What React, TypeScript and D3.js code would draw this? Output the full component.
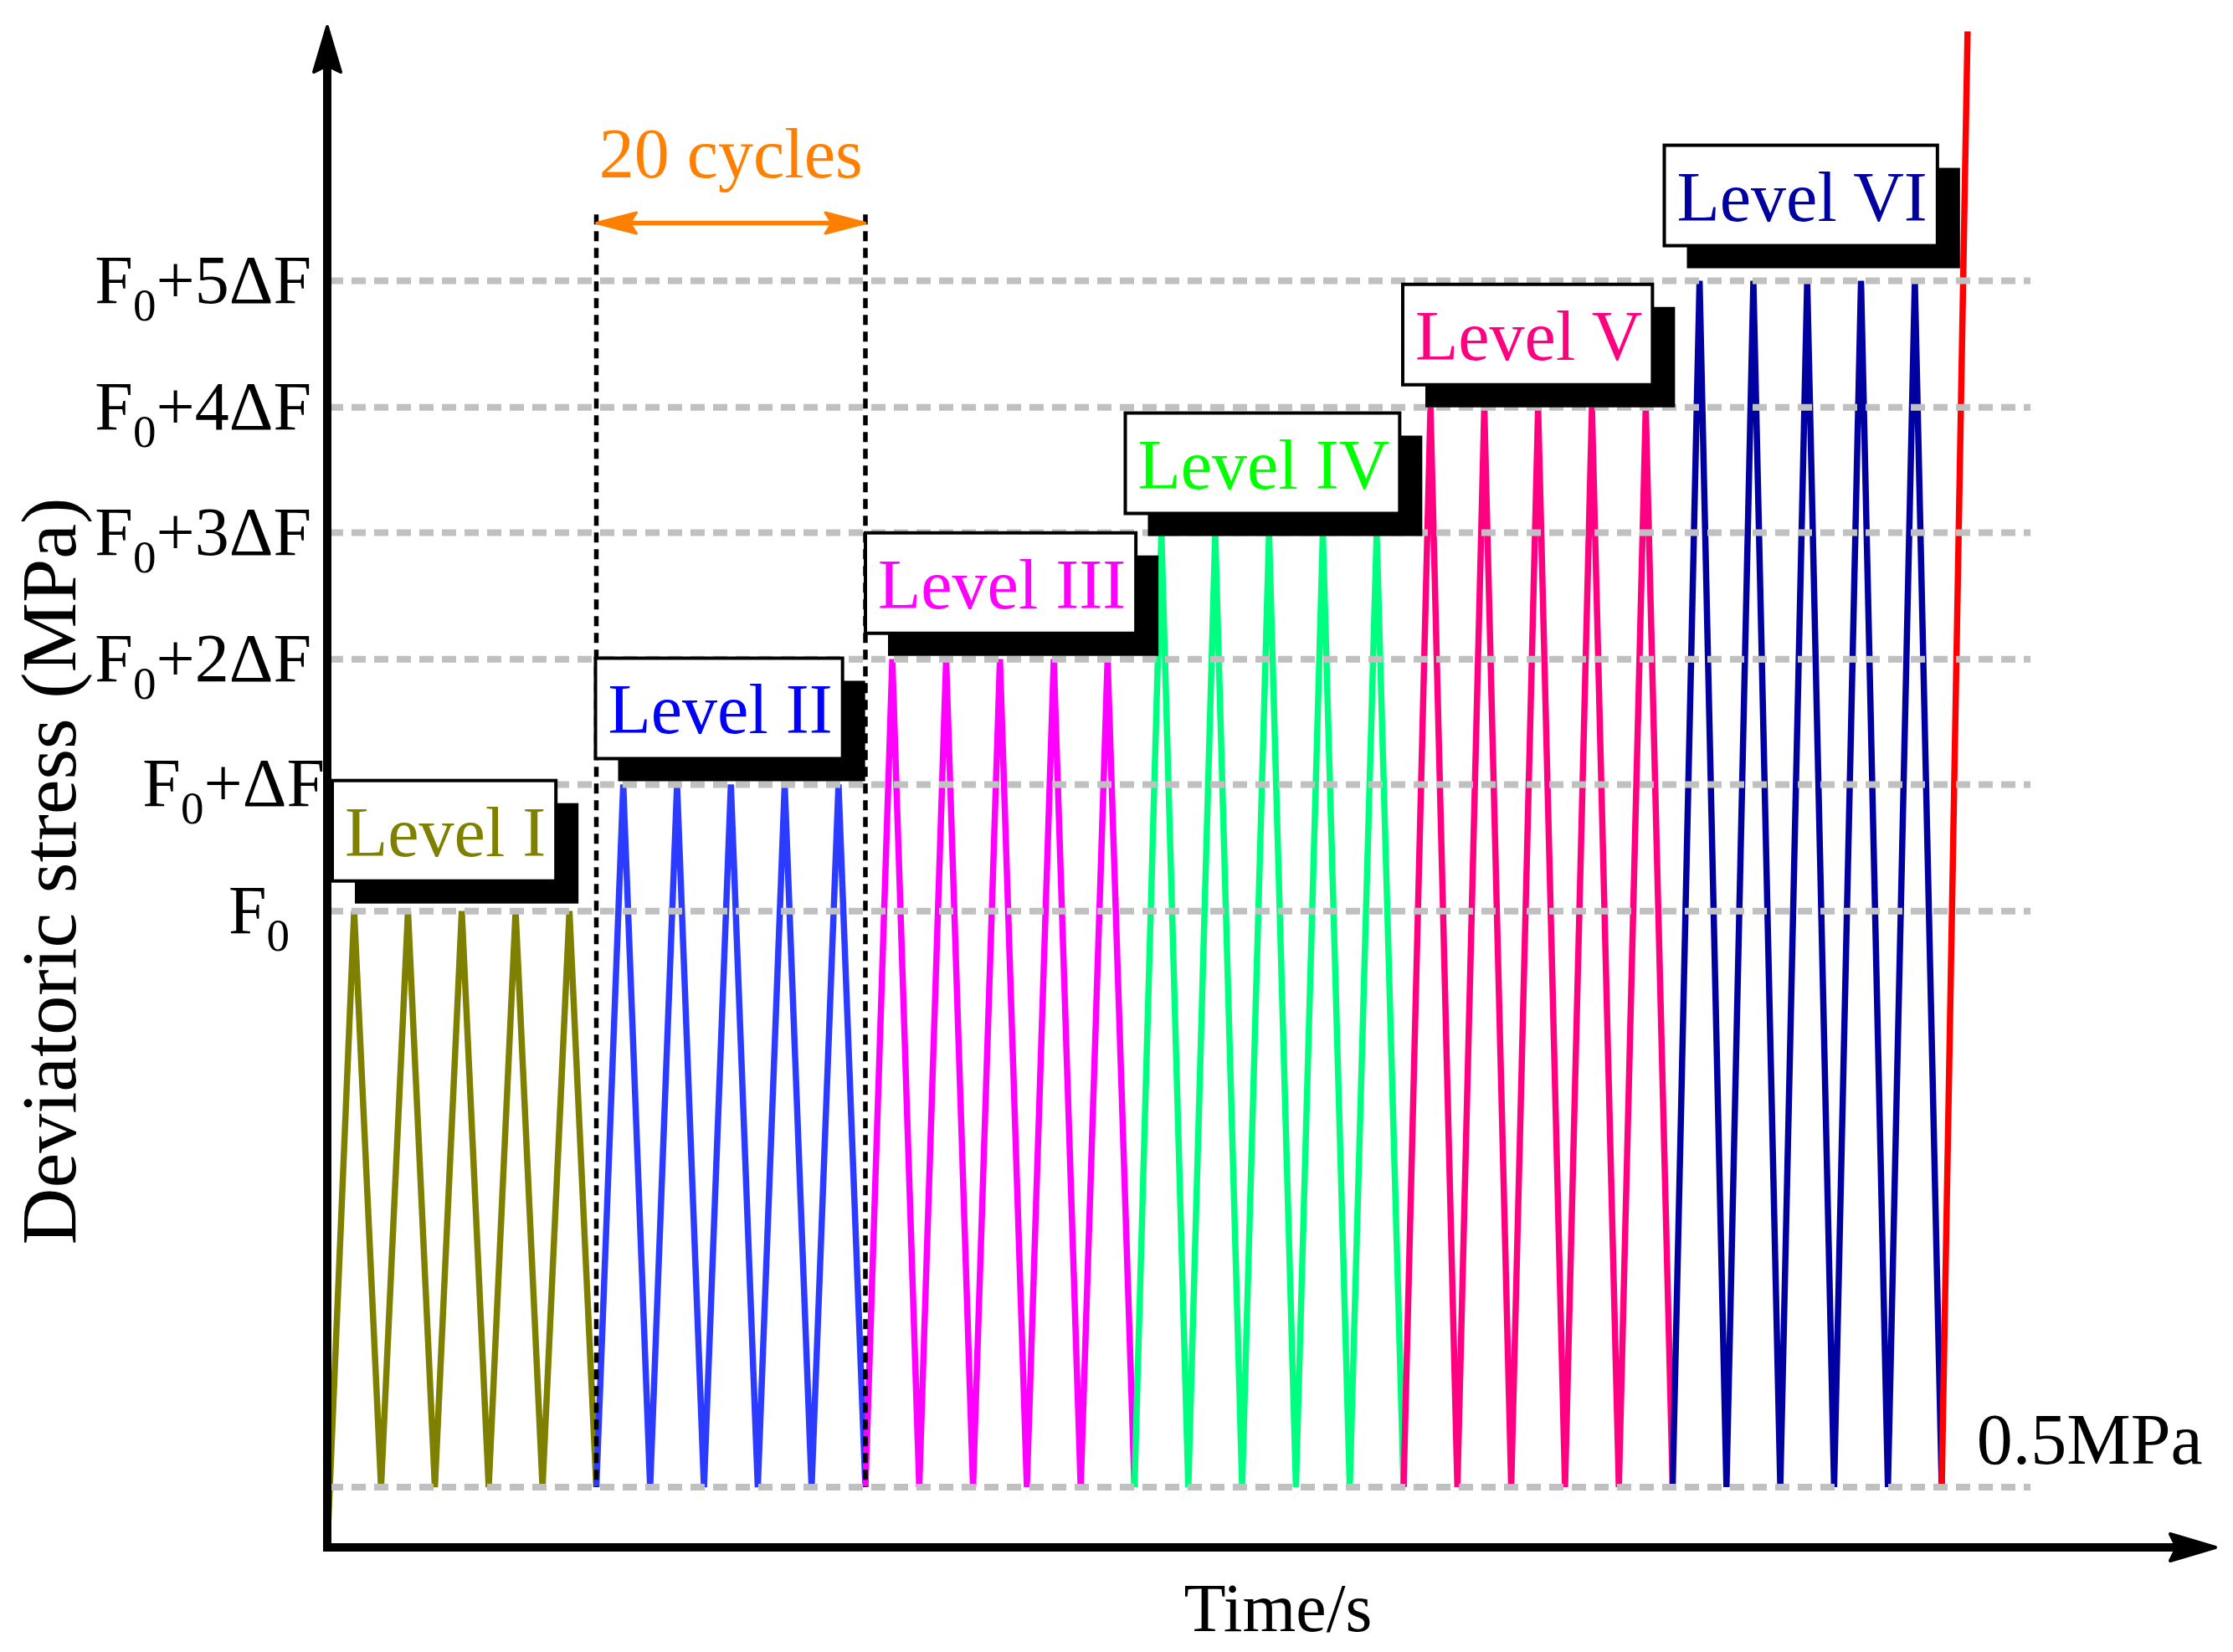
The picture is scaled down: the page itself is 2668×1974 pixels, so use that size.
import { useEffect, useRef } from 'react';
import * as d3 from 'd3';

// schematic stress levels (MPa, relative spacing only)
const tickValues = [5.28, 6.33, 7.37, 8.42, 9.46, 10.51];
const tickSuffix = ['', '+ΔF', '+2ΔF', '+3ΔF', '+4ΔF', '+5ΔF'];
const valleyValue = 0.5;

// one vertex every half cycle, five drawn cycles per level
const levelI = [0, 5.28, 0.5, 5.28, 0.5, 5.28, 0.5, 5.28, 0.5, 5.28, 0.5];
const levelII = [0.5, 6.33, 0.5, 6.33, 0.5, 6.33, 0.5, 6.33, 0.5, 6.33, 0.5];
const levelIII = [0.5, 7.37, 0.5, 7.37, 0.5, 7.37, 0.5, 7.37, 0.5, 7.37, 0.5];
const levelIV = [0.5, 8.42, 0.5, 8.42, 0.5, 8.42, 0.5, 8.42, 0.5, 8.42, 0.5];
const levelV = [0.5, 9.46, 0.5, 9.46, 0.5, 9.46, 0.5, 9.46, 0.5, 9.46, 0.5];
const levelVI = [0.5, 10.51, 0.5, 10.51, 0.5, 10.51, 0.5, 10.51, 0.5, 10.51, 0.5];
const levels = [levelI, levelII, levelIII, levelIV, levelV, levelVI];

const levelNames = ['Level I', 'Level II', 'Level III', 'Level IV', 'Level V', 'Level VI'];
const lineColors = ['#808000', '#2b3bff', '#ff00ff', '#00ff80', '#ff0080', '#0000a0'];
const textColors = ['#808000', '#0000ff', '#ff00ff', '#00ff00', '#ff0080', '#0000a0'];

// final monotonic loading to failure: [cycle, stress]
const failureRamp: [number, number][] = [
    [30, 0.5],
    [30.48, 12.58],
];

const cyclesPerLevel = 5;
const spanCycles = [5, 10]; // the "20 cycles" bracket

const W = 2668;
const H = 1974;
const originX = 391;
const originY = 1849;
const font = "'Liberation Serif', 'Times New Roman', serif";

// small nudges of the label boxes so they sit like in the figure
const boxDx = [6, -1, 0, -11, -1, -10];
const boxDy = [-9, -4, -4, 4, 0, -15];
const tickDx = [-45, -3, -19, -19, -19, -19];

const App = () => {
    const svgRef = useRef<SVGSVGElement>(null);

    useEffect(() => {
        d3.select(svgRef.current).selectAll('*').remove();
        const svg = d3.select(svgRef.current);

        const x = d3.scaleLinear().domain([0, 30]).range([originX, 2320]);
        const y = d3
            .scaleLinear()
            .domain([0, 12.6])
            .range([originY, originY - 12.6 * 144]);

        const line = d3
            .line<[number, number]>()
            .x(d => x(d[0]))
            .y(d => y(d[1]));

        // waveforms
        levels.forEach((vals, k) => {
            const pts: [number, number][] = vals.map((v, i) => [k * cyclesPerLevel + i * 0.5, v]);
            svg.append('path')
                .attr('d', line(pts))
                .attr('fill', 'none')
                .attr('stroke', lineColors[k])
                .attr('stroke-width', 7.5);
        });
        svg.append('path')
            .attr('d', line(failureRamp))
            .attr('fill', 'none')
            .attr('stroke', '#ff0000')
            .attr('stroke-width', 7.5);

        // dashed gray reference lines
        const gridEnd = x(31.65);
        [valleyValue, ...tickValues].forEach(v => {
            svg.append('line')
                .attr('x1', originX + 2)
                .attr('x2', gridEnd)
                .attr('y1', y(v))
                .attr('y2', y(v))
                .attr('stroke', '#c0c0c0')
                .attr('stroke-width', 8)
                .attr('stroke-dasharray', '17 10');
        });

        // 20 cycles bracket
        spanCycles.forEach(c => {
            svg.append('line')
                .attr('x1', x(c))
                .attr('x2', x(c))
                .attr('y1', y(11.06))
                .attr('y2', y(valleyValue))
                .attr('stroke', '#000')
                .attr('stroke-width', 5.5)
                .attr('stroke-dasharray', '12 8');
        });
        const ay = y(10.99);
        const ax0 = x(spanCycles[0]);
        const ax1 = x(spanCycles[1]);
        const orange = '#ff8000';
        svg.append('line')
            .attr('x1', ax0 + 20)
            .attr('x2', ax1 - 20)
            .attr('y1', ay)
            .attr('y2', ay)
            .attr('stroke', orange)
            .attr('stroke-width', 5.5);
        svg.append('path')
            .attr('d', `M${ax0},${ay} L${ax0 + 48},${ay - 12.5} L${ax0 + 40},${ay} L${ax0 + 48},${ay + 12.5} Z`)
            .attr('fill', orange)
            .attr('stroke', orange)
            .attr('stroke-width', 3)
            .attr('stroke-linejoin', 'round');
        svg.append('path')
            .attr('d', `M${ax1},${ay} L${ax1 - 48},${ay - 12.5} L${ax1 - 40},${ay} L${ax1 - 48},${ay + 12.5} Z`)
            .attr('fill', orange)
            .attr('stroke', orange)
            .attr('stroke-width', 3)
            .attr('stroke-linejoin', 'round');
        svg.append('text')
            .attr('x', (ax0 + ax1) / 2)
            .attr('y', 212)
            .attr('text-anchor', 'middle')
            .attr('font-family', font)
            .attr('font-size', 84)
            .attr('fill', orange)
            .text('20 cycles');

        // level label boxes with drop shadow
        levelNames.forEach((name, k) => {
            const g = svg.append('g');
            const shadowBottom = y(tickValues[k]) + boxDy[k];
            const boxTop = shadowBottom - 27 - 120;
            const left = x(k * cyclesPerLevel) + boxDx[k];
            const txt = g
                .append('text')
                .attr('x', left + 15)
                .attr('y', boxTop + 90)
                .attr('font-family', font)
                .attr('font-size', 84)
                .attr('fill', textColors[k])
                .text(name);
            const tw = (txt.node() as SVGTextElement).getComputedTextLength();
            const bw = tw + 27;
            g.insert('rect', 'text')
                .attr('x', left + 27)
                .attr('y', boxTop + 27)
                .attr('width', bw)
                .attr('height', 120)
                .attr('fill', '#000');
            g.insert('rect', 'text')
                .attr('x', left)
                .attr('y', boxTop)
                .attr('width', bw)
                .attr('height', 120)
                .attr('fill', '#fff')
                .attr('stroke', '#000')
                .attr('stroke-width', 4);
        });

        // axes with arrow heads
        svg.append('line')
            .attr('x1', originX)
            .attr('x2', originX)
            .attr('y1', originY + 5)
            .attr('y2', 70)
            .attr('stroke', '#000')
            .attr('stroke-width', 10);
        svg.append('path')
            .attr('d', `M${originX},32 L${originX - 16},86 L${originX},78 L${originX + 16},86 Z`)
            .attr('fill', '#000')
            .attr('stroke', '#000')
            .attr('stroke-width', 4)
            .attr('stroke-linejoin', 'round');
        svg.append('line')
            .attr('x1', originX - 5)
            .attr('x2', 2610)
            .attr('y1', originY)
            .attr('y2', originY)
            .attr('stroke', '#000')
            .attr('stroke-width', 10);
        svg.append('path')
            .attr('d', `M2647,${originY} L2593,${originY - 16} L2601,${originY} L2593,${originY + 16} Z`)
            .attr('fill', '#000')
            .attr('stroke', '#000')
            .attr('stroke-width', 4)
            .attr('stroke-linejoin', 'round');

        // tick labels F0 ... F0+5ΔF
        tickValues.forEach((v, k) => {
            const t = svg
                .append('text')
                .attr('x', originX + tickDx[k])
                .attr('y', y(v) + 26)
                .attr('text-anchor', 'end')
                .attr('font-family', font)
                .attr('font-size', 82)
                .attr('fill', '#000');
            t.append('tspan').text('F');
            t.append('tspan').attr('font-size', 55).attr('dy', 21).text('0');
            if (tickSuffix[k]) t.append('tspan').attr('dy', -21).text(tickSuffix[k]);
        });

        svg.append('text')
            .attr('x', x(30.65))
            .attr('y', y(valleyValue) - 28)
            .attr('font-family', font)
            .attr('font-size', 86)
            .attr('fill', '#000')
            .text('0.5MPa');

        // axis titles
        svg.append('text')
            .attr('x', 1527)
            .attr('y', 1949)
            .attr('text-anchor', 'middle')
            .attr('font-family', font)
            .attr('font-size', 82)
            .attr('fill', '#000')
            .text('Time/s');
        svg.append('text')
            .attr('transform', 'translate(90,1041) rotate(-90)')
            .attr('text-anchor', 'middle')
            .attr('font-family', font)
            .attr('font-size', 94)
            .attr('fill', '#000')
            .text('Deviatoric stress (MPa)');
    }, []);

    return (
        <svg
            ref={svgRef}
            width={W}
            height={H}
            style={{ position: 'absolute', left: 0, top: 0, background: '#fff' }}
        ></svg>
    );
};

export default App;
